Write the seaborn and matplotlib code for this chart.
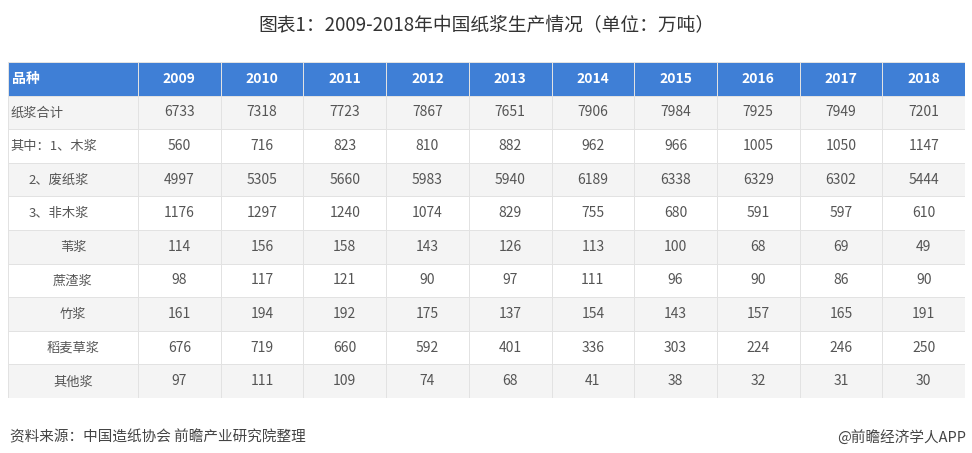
import matplotlib
matplotlib.use("Agg")
import matplotlib.pyplot as plt
from matplotlib.colors import ListedColormap
import seaborn as sns
import numpy as np
import pandas as pd

plt.rcParams["font.family"] = "Noto Sans CJK SC"

years = ["2009", "2010", "2011", "2012", "2013", "2014", "2015", "2016", "2017", "2018"]
row_labels = ["纸浆合计", "其中：1、木浆", "2、废纸浆", "3、非木浆", "苇浆", "蔗渣浆", "竹浆", "稻麦草浆", "其他浆"]
label_align = ["left", "left", "right", "right", "center", "center", "center", "center", "center"]
total = [6733, 7318, 7723, 7867, 7651, 7906, 7984, 7925, 7949, 7201]
wood = [560, 716, 823, 810, 882, 962, 966, 1005, 1050, 1147]
waste = [4997, 5305, 5660, 5983, 5940, 6189, 6338, 6329, 6302, 5444]
nonwood = [1176, 1297, 1240, 1074, 829, 755, 680, 591, 597, 610]
reed = [114, 156, 158, 143, 126, 113, 100, 68, 69, 49]
bagasse = [98, 117, 121, 90, 97, 111, 96, 90, 86, 90]
bamboo = [161, 194, 192, 175, 137, 154, 143, 157, 165, 191]
straw = [676, 719, 660, 592, 401, 336, 303, 224, 246, 250]
other = [97, 111, 109, 74, 68, 41, 38, 32, 31, 30]

values = pd.DataFrame([total, wood, waste, nonwood, reed, bagasse, bamboo, straw, other],
                      index=row_labels, columns=years)

W, H = 972, 453
fig = plt.figure(figsize=(W / 100, H / 100), dpi=100)
fig.patch.set_facecolor("white")

top, hdr_bot, bot = 62, 100, 398
left, split, right = 8, 138, 965

def ax_at(x0, x1):
    return fig.add_axes([x0 / W, 1 - bot / H, (x1 - x0) / W, (bot - top) / H])

stripe = np.array([[0]] + [[1 if i % 2 == 0 else 2] for i in range(len(row_labels))])
cmap = ListedColormap(["#3f7fd6", "#f4f4f4", "#ffffff"])

axv = ax_at(split, right)
bg = np.repeat(stripe, len(years), axis=1)
annot = np.vstack([np.array(years)[None, :], values.values.astype(str)])
sns.heatmap(bg, ax=axv, cmap=cmap, vmin=0, vmax=2, cbar=False, annot=annot, fmt="",
            linewidths=0.6, linecolor="#e2e2e2", xticklabels=False, yticklabels=False,
            annot_kws={"fontsize": 10, "color": "#555555"})
for t in axv.texts[:len(years)]:
    t.set_color("white"); t.set_fontweight("bold")

axl = ax_at(left, split)
sns.heatmap(stripe, ax=axl, cmap=cmap, vmin=0, vmax=2, cbar=False,
            linewidths=0.6, linecolor="#e2e2e2", xticklabels=False, yticklabels=False)
axl.text(0.03, 0.5, "品种", color="white", fontweight="bold", fontsize=10, va="center")
for i, (lab, al) in enumerate(zip(row_labels, label_align)):
    x = {"left": 0.02, "right": 0.62, "center": 0.5}[al]
    axl.text(x, i + 1.52, lab, ha=al, va="center", fontsize=9.5, color="#555555")

fig.text(0.5, 1 - 26 / H, "图表1：2009-2018年中国纸浆生产情况（单位：万吨）", ha="center", va="center",
         fontsize=13.5, color="#333333")
fig.text(10 / W, 1 - 437 / H, "资料来源：中国造纸协会 前瞻产业研究院整理", ha="left", va="center",
         fontsize=10.5, color="#444444", style="italic")
fig.text(966 / W, 1 - 437 / H, "@前瞻经济学人APP", ha="right", va="center",
         fontsize=10.5, color="#444444")

fig.savefig("out.png", dpi=100)
